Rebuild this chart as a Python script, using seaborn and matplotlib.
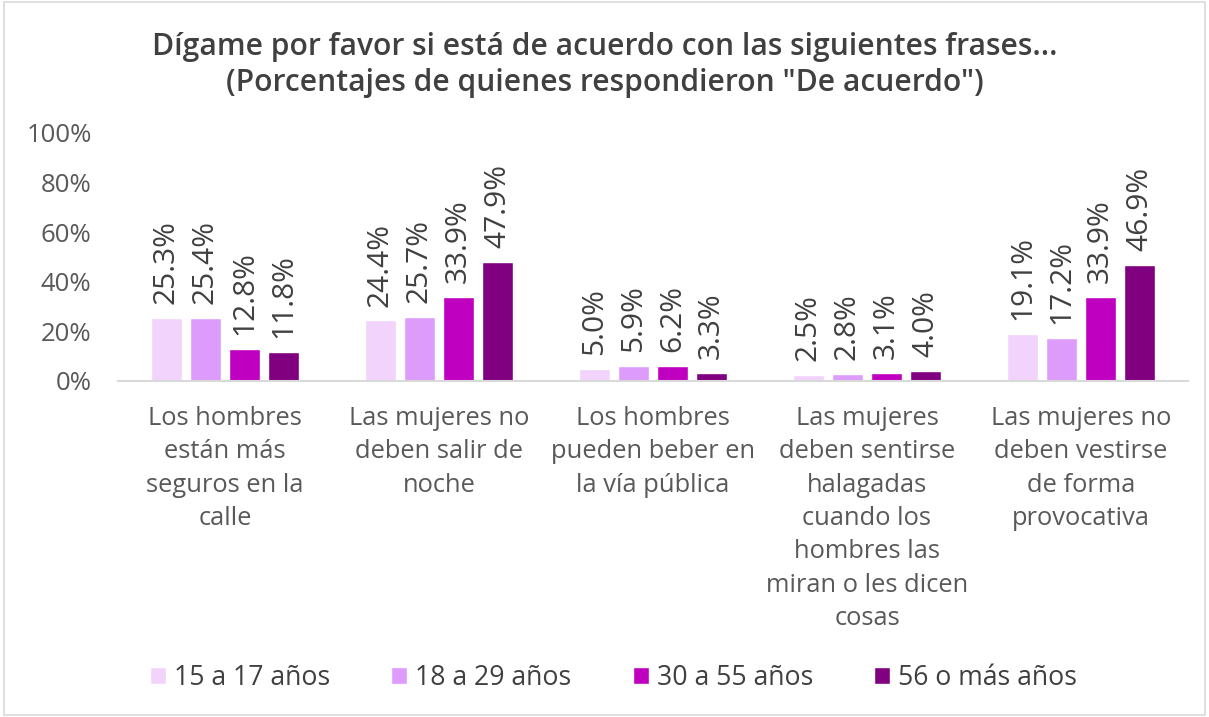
import matplotlib
matplotlib.use("Agg")
import matplotlib.pyplot as plt
import seaborn as sns
import pandas as pd
from matplotlib.patches import Rectangle
from matplotlib.ticker import PercentFormatter

# data
frases = [
    "Los hombres\nestán más\nseguros en la\ncalle",
    "Las mujeres no\ndeben salir de\nnoche",
    "Los hombres\npueden beber en\nla vía pública",
    "Las mujeres\ndeben sentirse\nhalagadas\ncuando los\nhombres las\nmiran o les dicen\ncosas",
    "Las mujeres no\ndeben vestirse\nde forma\nprovocativa",
]
grupos = ["15 a 17 años", "18 a 29 años", "30 a 55 años", "56 o más años"]
edad_15_17 = [25.3, 24.4, 5.0, 2.5, 19.1]
edad_18_29 = [25.4, 25.7, 5.9, 2.8, 17.2]
edad_30_55 = [12.8, 33.9, 6.2, 3.1, 33.9]
edad_56_mas = [11.8, 47.9, 3.3, 4.0, 46.9]
colores = ["#F2D3FC", "#DD9CFC", "#C000C0", "#800080"]

rows = []
for g, vals in zip(grupos, [edad_15_17, edad_18_29, edad_30_55, edad_56_mas]):
    for f, v in zip(frases, vals):
        rows.append({"frase": f, "grupo": g, "valor": v / 100})
df = pd.DataFrame(rows)

sns.set_style("white")
plt.rcParams["font.family"] = ["Open Sans", "DejaVu Sans"]
text_col = "#404040"
tick_col = "#595959"

fig = plt.figure(figsize=(12.09, 7.17), dpi=100)
ax = fig.add_axes([118 / 1209, 1 - 381 / 717, 1070 / 1209, 248 / 717])

sns.barplot(data=df, x="frase", y="valor", hue="grupo", order=frases,
            hue_order=grupos, palette=colores, width=0.73, gap=0.2,
            saturation=1, errorbar=None, ax=ax)

# value labels, rotated
for cont in ax.containers:
    labels = [f"{b.get_height() * 100:.1f}%" for b in cont]
    ax.bar_label(cont, labels=labels, rotation=90, padding=10,
                 fontsize=21.5, color=text_col, fontweight="medium")

ax.set_ylim(0, 1)
ax.set_yticks([0, 0.2, 0.4, 0.6, 0.8, 1.0])
ax.yaxis.set_major_formatter(PercentFormatter(1.0, decimals=0))
ax.tick_params(axis="y", length=0, pad=19, labelsize=18.5, labelcolor=tick_col)
ax.tick_params(axis="x", length=0, pad=18, labelsize=18.4, labelcolor=tick_col)
for lbl in ax.get_xticklabels():
    lbl.set_linespacing(1.44)
    lbl.set_verticalalignment("top")
ax.set_xlabel("")
ax.set_ylabel("")
for s in ["top", "right", "left"]:
    ax.spines[s].set_visible(False)
ax.spines["bottom"].set_color("#D9D9D9")
ax.spines["bottom"].set_linewidth(1.5)

ax.legend_.remove()
handles, labs = ax.get_legend_handles_labels()
fig.legend(handles, labs, loc="center",
           bbox_to_anchor=(0.5 + 9 / 1209, 1 - 678 / 717),
           ncol=4, frameon=False, fontsize=19.2, handlelength=0.6,
           handleheight=0.6, handletextpad=0.3, columnspacing=2.3,
           labelcolor=text_col)

fig.text(0.5, 1 - 47 / 717,
         "Dígame por favor si está de acuerdo con las siguientes frases...",
         ha="center", va="center", fontsize=21.6, color=text_col, fontweight="semibold")
fig.text(0.5, 1 - 83 / 717,
         "(Porcentajes de quienes respondieron \"De acuerdo\")",
         ha="center", va="center", fontsize=21.6, color=text_col, fontweight="semibold")

fig.patches.append(Rectangle((4 / 1209, 0.003), 1 - 8 / 1209, 0.994,
                             transform=fig.transFigure, fill=False,
                             edgecolor="#D9D9D9", linewidth=1.2))

fig.savefig("out.png", dpi=100)
